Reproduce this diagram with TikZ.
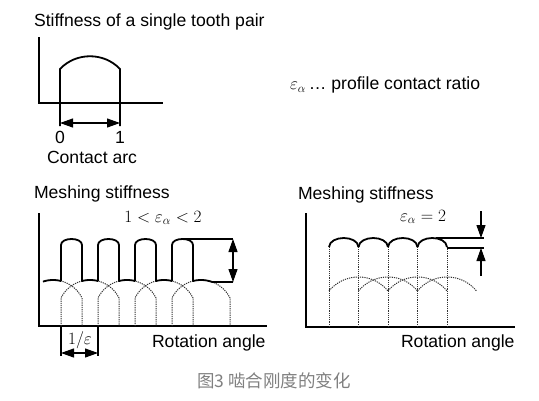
\documentclass[tikz,border=0pt]{standalone}
\usepackage{fontspec}
\setmainfont{Liberation Sans}
\newfontfamily\cjk{Noto Sans CJK SC}
\usepackage{xcolor}
\definecolor{capgray}{RGB}{128,128,128}
\definecolor{dotgray}{RGB}{50,50,50}
\usetikzlibrary{arrows.meta}

\begin{document}
\begin{tikzpicture}[x=1pt,y=-1pt,font=\fontsize{17.6}{20}\selectfont,
  >={Triangle[length=13pt,width=9pt]},
  axis/.style={line width=1.8pt},
  curve/.style={line width=1.8pt,line join=round},
  dimline/.style={line width=1.1pt},
  pairdot/.style={dotgray,line width=1pt,dash pattern=on 1.2pt off 1pt},
  declare function={kL(\t,\c)=312.4-sqrt(1050-(\t-\c-29)^2);
                    kR(\t,\c)=315.1-sqrt(1452-(\t-\c-29.5)^2);}]
  \useasboundingbox (0,0) rectangle (539,400);

  % single tooth pair
  \node[anchor=west] (single) at (30.5,22) {Stiffness of a single tooth pair};
  \draw[axis] (39,37) -- (39,103) -- (163,103);
  \draw[curve] (60,126) -- (60,69) .. controls (76,52) and (104,52) .. (120,69) -- (120,126);
  \coordinate (c0) at (60,123);
  \coordinate (c1) at (120,123);
  \draw[dimline,<->] (c0) -- (c1);
  \node (n0) at (60,137) {0};
  \node (n1) at (120,137) {1};
  \node (carc) at (92,157) {Contact arc};
  \node[anchor=west] (eps) at (286.5,85) {$\varepsilon_\alpha$\,\ldots\ profile contact ratio};

  % 1 < eps < 2
  \node[anchor=west] (meshL) at (30.5,194) {Meshing stiffness};
  \node (ratioL) at (163,218) {$1<\varepsilon_\alpha<2$};
  \draw[axis] (39,213) -- (39,326) -- (267,326);
  \draw[pairdot] plot[domain=43:82,samples=25] (\x,{kL(\x,24)}) -- (82,326);
  \foreach \s in {61,98,135,172}
    \draw[pairdot] (\s,326) -- plot[domain=\s:\s+58,samples=30] (\x,{kL(\x,\s)}) -- (\s+58,326);
  \draw[curve] plot[domain=43:61,samples=10] (\x,{kL(\x,24)});
  \foreach \s in {61,98,135}
    \draw[curve] (\s,{kL(\s,\s-37)}) -- (\s,245) .. controls (\s,237) and (\s+21,237) .. (\s+21,245)
      -- plot[domain=\s+21:\s+37,samples=10] (\x,{kL(\x,\s)});
  \draw[curve] (172,{kL(172,135)}) -- (172,245) .. controls (172,237) and (193,237) .. (193,245)
    -- plot[domain=193:212,samples=10] (\x,{kL(\x,172)}) -- (233,282);
  \coordinate (hiL) at (233,239);
  \coordinate (loL) at (233,282);
  \draw[dimline] (182,239) -- (hiL);
  \draw[dimline,<->] (hiL) -- (loL);
  \coordinate (p0) at (61,353);
  \coordinate (p1) at (98,353);
  \draw[dimline] (61,326) -- (61,356) (98,326) -- (98,356);
  \draw[dimline,<->] (p0) -- (p1);
  \node (inv) at (80,340) {$1/\varepsilon$};
  \node[anchor=west] (rotL) at (148.5,343) {Rotation angle};

  % eps = 2
  \node[anchor=west] (meshR) at (294.5,195) {Meshing stiffness};
  \node (ratioR) at (423,217) {$\varepsilon_\alpha=2$};
  \draw[axis] (306,213) -- (306,327) -- (515,327);
  \foreach \s in {329,358.5,388,417.5}
    \draw[pairdot] plot[domain=\s:\s+59,samples=30] (\x,{kR(\x,\s)});
  \foreach \s in {329,358.5,388,417.5,447}
    \draw[pairdot] (\s,327) -- (\s,247);
  \foreach \s in {329,358.5,388,417.5}
    \draw[curve] (\s,247) .. controls (\s+1,235) and (\s+28.5,235) .. (\s+29.5,247);
  \coordinate (hiR) at (481,238);
  \coordinate (loR) at (481,248);
  \draw[dimline] (436,238) -- (484,238) (447,248) -- (484,248);
  \draw[dimline,->] (481,211) -- (hiR);
  \draw[dimline,->] (481,276) -- (loR);
  \node[anchor=west] (rotR) at (397.5,343) {Rotation angle};

  \node[capgray,font=\fontsize{17.5}{20}\selectfont] (cap) at (274,381) {\cjk 图3 啮合刚度的变化};
\end{tikzpicture}
\end{document}
